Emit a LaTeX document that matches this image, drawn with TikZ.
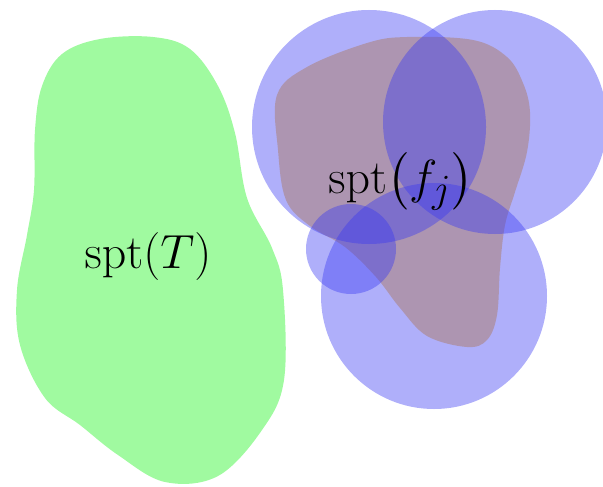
\documentclass[tikz,border=0pt]{standalone}
\usepackage{amsmath}
\definecolor{sptgreen}{RGB}{160,250,160}
\definecolor{sptbrown}{RGB}{252,212,135}
\definecolor{ballblue}{RGB}{55,55,242}

\begin{document}
\begin{tikzpicture}[
  x=0.025cm, y=-0.025cm,
  lbl/.style={font=\Huge, scale=1.37, transform shape, inner sep=0pt, anchor=base},
  tblob/.style={fill=sptgreen, draw=none},
  fblob/.style={fill=sptbrown, draw=none},
  ball/.style={fill=ballblue, fill opacity=0.4, draw=none}
]
\useasboundingbox (0,0) rectangle (603,486);

% ---- support of T (left) ----
\fill[tblob] plot[smooth cycle, tension=0.6] coordinates {
  (35,130) (42,86) (62,54) (100,39) (153,37) (190,49) (218,86)
  (235,133) (247,198) (272,248) (283,290) (284,380) (262,430)
  (218,476) (165,482) (118,455) (80,425) (45,398) (20,345)
  (17,290) (27,235) (34,190)};
\node[lbl] (sptT) at (148,268) {$\mathrm{spt}(T)$};

% ---- support of f_j (right) ----
\fill[fblob] plot[smooth cycle, tension=0.6] coordinates {
  (277,95) (307,67) (367,43) (407,37) (473,40) (507,57) (523,83)
  (530,112) (527,152) (515,192) (505,225) (500,268) (497,315)
  (487,340) (467,347) (427,336) (400,308) (376,277) (345,247)
  (310,226) (286,200) (278,150)};

% ---- covering balls ----
\fill[ball] (369,127) circle[radius=117];
\fill[ball] (495,122) circle[radius=112];
\fill[ball] (434,296) circle[radius=113];
\fill[ball] (351,249) circle[radius=45];

\node[lbl] (sptf) at (401,193) {$\mathrm{spt}\bigl(f_j\bigr)$};
\end{tikzpicture}
\end{document}
